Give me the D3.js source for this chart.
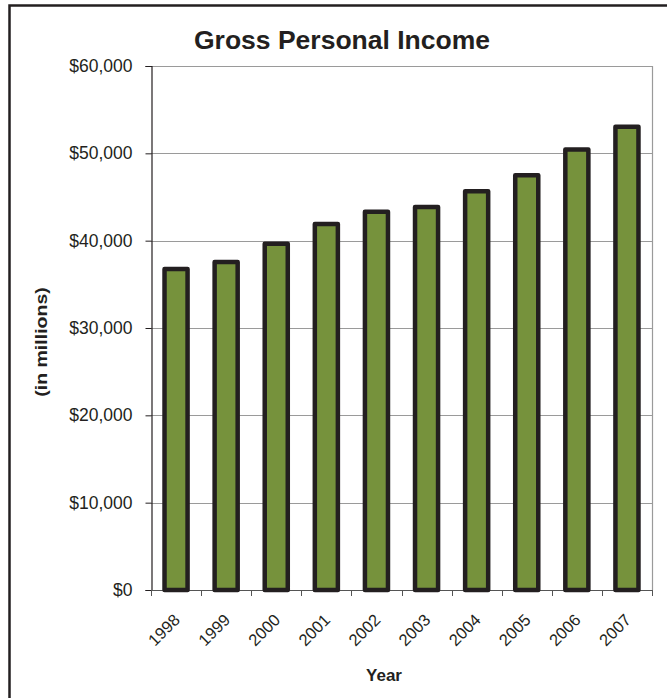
<!DOCTYPE html>
<html>
<head>
<meta charset="utf-8">
<script src="https://cdn.jsdelivr.net/npm/d3@7"></script>
<style>
  body { margin: 0; background: #fff; }
  text { font-family: "Liberation Sans", Arial, sans-serif; fill: #231f20; }
</style>
</head>
<body>
<svg id="chart" width="667" height="698"></svg>
<script>
const years = ['1998', '1999', '2000', '2001', '2002', '2003', '2004', '2005', '2006', '2007']
const income = [36750, 37550, 39650, 41900, 43300, 43850, 45650, 47500, 50450, 53050]
const yTicks = [0, 10000, 20000, 30000, 40000, 50000, 60000]

const plot = { left: 151, right: 652, top: 66, bottom: 590 }
const ink = '#231f20'

const svg = d3.select('#chart')

const x = d3.scaleBand()
    .domain(years)
    .range([plot.left, plot.right])
    .paddingInner(0.54)
    .paddingOuter(0.27)

const y = d3.scaleLinear()
    .domain([0, 60000])
    .range([plot.bottom, plot.top])

const fmt = d => '$' + d3.format(',')(d)

// outer frame (only left and top edges show in the crop)
svg.append('path')
    .attr('d', 'M9.5,698 V5.5 H667')
    .attr('fill', 'none')
    .attr('stroke', ink)
    .attr('stroke-width', 2.5)

// gridlines
svg.append('g')
    .selectAll('line')
    .data(yTicks.slice(1))
    .join('line')
    .attr('x1', plot.left)
    .attr('x2', plot.right)
    .attr('y1', d => Math.round(y(d)) + 0.5)
    .attr('y2', d => Math.round(y(d)) + 0.5)
    .attr('stroke', '#9a9a9a')
    .attr('stroke-width', 1.2)

// right border of the plot
svg.append('line')
    .attr('x1', plot.right + 0.5).attr('x2', plot.right + 0.5)
    .attr('y1', plot.top).attr('y2', plot.bottom)
    .attr('stroke', '#9a9a9a')
    .attr('stroke-width', 1.2)

// y axis
const yAxis = svg.append('g')
    .attr('transform', `translate(${plot.left + 0.5},0)`)
    .call(d3.axisLeft(y).tickValues(yTicks).tickFormat(fmt).tickSize(6).tickPadding(13))

yAxis.select('.domain').attr('stroke', ink).attr('stroke-width', 1.2)
yAxis.selectAll('.tick line').attr('stroke', ink)
yAxis.selectAll('.tick text')
    .style('font-size', '17.5px')
    .style('font-family', '"Liberation Sans", Arial, sans-serif')
    .attr('fill', ink)

// x axis: ticks sit between categories
const bounds = d3.range(years.length + 1).map(i => plot.left + i * x.step())
svg.append('line')
    .attr('x1', plot.left).attr('x2', plot.right + 1)
    .attr('y1', plot.bottom + 0.5).attr('y2', plot.bottom + 0.5)
    .attr('stroke', '#555')
    .attr('stroke-width', 1.2)
svg.append('g')
    .selectAll('line')
    .data(bounds)
    .join('line')
    .attr('x1', d => Math.round(d) + 0.5)
    .attr('x2', d => Math.round(d) + 0.5)
    .attr('y1', plot.bottom)
    .attr('y2', plot.bottom + 6)
    .attr('stroke', '#555')

// bars
svg.append('g')
    .selectAll('rect')
    .data(years)
    .join('rect')
    .attr('x', d => x(d))
    .attr('width', x.bandwidth())
    .attr('y', (d, i) => y(income[i]))
    .attr('height', (d, i) => y(0) - y(income[i]))
    .attr('fill', '#76923c')
    .attr('stroke', ink)
    .attr('stroke-width', 4.5)
    .attr('stroke-linejoin', 'round')

// x labels
svg.append('g')
    .selectAll('text')
    .data(years)
    .join('text')
    .attr('text-anchor', 'end')
    .attr('transform', d => `translate(${x(d) + x.bandwidth() / 2 + 5},621) rotate(-45)`)
    .style('font-size', '16.5px')
    .text(d => d)

// title
svg.append('text')
    .attr('x', 342)
    .attr('y', 49)
    .attr('text-anchor', 'middle')
    .style('font-size', '26.5px')
    .style('font-weight', 'bold')
    .text('Gross Personal Income')

// axis titles
svg.append('text')
    .attr('x', 384)
    .attr('y', 681)
    .attr('text-anchor', 'middle')
    .style('font-size', '17px')
    .style('font-weight', 'bold')
    .text('Year')

svg.append('text')
    .attr('transform', 'translate(47,342) rotate(-90) scale(1.15,1)')
    .attr('text-anchor', 'middle')
    .style('font-size', '17px')
    .style('font-weight', 'bold')
    .text('(in millions)')
</script>
</body>
</html>
